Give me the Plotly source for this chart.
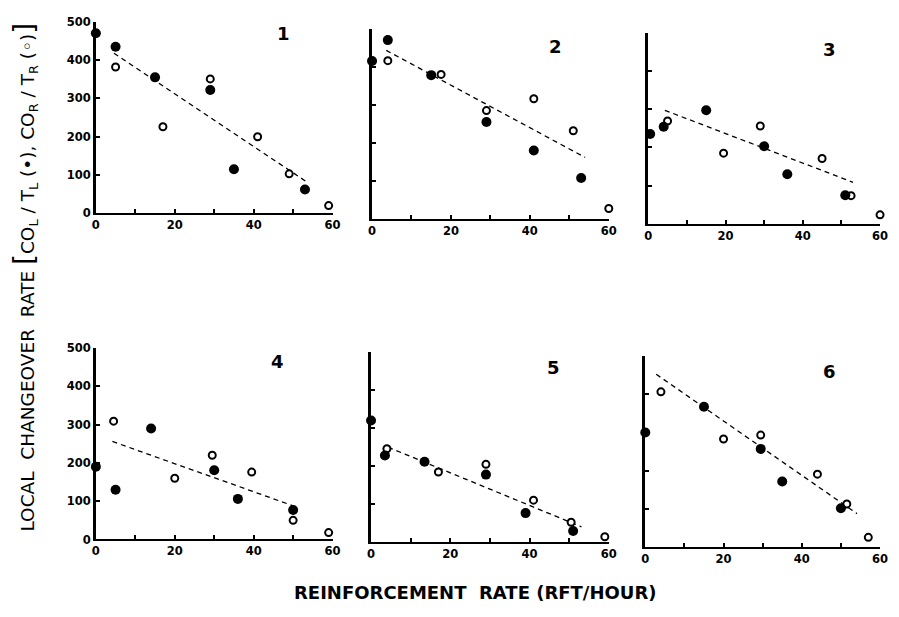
import plotly.graph_objects as go

# Figure is sized so that, with the page's 8px body margin, it fills the
# 899x617 window exactly (no scrollbars, no rescaling).
OFF = 8
W, H = 899 - 2 * OFF, 617 - 2 * OFF

panel_labels = ["1", "2", "3", "4", "5", "6"]

# filled circles: CO_L / T_L
filled_x = [
    [0, 5, 15, 29, 35, 53],
    [0, 4, 15, 29, 41, 53],
    [0.5, 4, 15, 30, 36, 51],
    [0, 5, 14, 30, 36, 50],
    [0, 3.5, 13.5, 29, 39, 51],
    [0, 5, 15, 29.5, 35, 50],
]
filled_y = [
    [470, 435, 355, 322, 115, 62],
    [415, 470, 378, 255, 180, 108],
    [235, 254, 297, 203, 130, 75],
    [190, 130, 290, 181, 106, 77],
    [320, 228, 212, 178, 77, 30],
    [300, 508, 367, 257, 172, 102],
]
# open circles: CO_R / T_R
open_x = [
    [5, 17, 29, 41, 49, 59],
    [4, 17.5, 29, 41, 51, 60],
    [5, 19.5, 29, 45, 52.5, 60],
    [4.5, 20, 29.5, 39.5, 50, 59],
    [4, 17, 29, 41, 50.5, 59],
    [4, 20, 29.5, 44, 51.5, 57],
]
open_y = [
    [382, 226, 351, 200, 103, 20],
    [416, 380, 285, 316, 232, 28],
    [269, 185, 256, 171, 74, 24],
    [309, 160, 220, 176, 50, 18],
    [246, 185, 205, 111, 53, 15],
    [406, 283, 293, 191, 113, 26],
]
# dashed fitted lines (endpoints)
fit_x = [[4.6, 53.3], [3.6, 54], [4.3, 53], [4.2, 50], [4.3, 53.1], [2.8, 54.1]]
fit_y = [[418, 83], [443, 162], [297, 109], [256, 88], [250, 41], [452, 88]]

x_ticks = [0, 20, 40, 60]
y_ticks = [0, 100, 200, 300, 400, 500]

# panel number label positions (data coords)
label_x = [47.5, 46.5, 47, 46, 46, 47]
label_y = [470, 454, 457, 464, 459, 459]

# layout geometry in window pixels (as seen in the reference)
x_dom_px = [(93, 333), (373, 613), (653, 888), (93, 333), (372, 613), (650, 888)]
y_dom_px = [(15, 211), (22, 217), (26, 222), (349, 545), (353, 548), (357, 553)]


def fx(px):
    return (px - OFF) / W


def fy(py):
    return 1 - (py - OFF) / H


tickfont = dict(family="DejaVu Sans", size=11.5, color="black", weight="bold")

fig = go.Figure()
layout = dict(
    width=W, height=H,
    margin=dict(l=0, r=0, t=0, b=0),
    paper_bgcolor="white", plot_bgcolor="white",
    showlegend=False,
    annotations=[],
)

for i in range(6):
    n = "" if i == 0 else str(i + 1)
    xa, ya = "x" + n, "y" + n
    fig.add_trace(go.Scatter(
        x=fit_x[i], y=fit_y[i], mode="lines", xaxis=xa, yaxis=ya,
        line=dict(color="black", width=1.3, dash="5px,4px"), cliponaxis=False))
    fig.add_trace(go.Scatter(
        x=open_x[i], y=open_y[i], mode="markers", xaxis=xa, yaxis=ya,
        marker=dict(symbol="circle", size=7, color="white",
                    line=dict(color="black", width=2)), cliponaxis=False))
    fig.add_trace(go.Scatter(
        x=filled_x[i], y=filled_y[i], mode="markers", xaxis=xa, yaxis=ya,
        marker=dict(symbol="circle", size=10, color="black",
                    line=dict(color="black", width=0)), cliponaxis=False))

    x0, x1 = x_dom_px[i]
    t, b = y_dom_px[i]
    layout["xaxis" + n] = dict(
        domain=[fx(x0), fx(x1)], anchor=ya, range=[0, 60],
        tickvals=x_ticks, ticks="inside", ticklen=4, tickwidth=1.5,
        tickcolor="black", showline=True, linecolor="black", linewidth=2,
        showgrid=False, zeroline=False, tickfont=tickfont,
        minor=dict(dtick=10, ticks="inside", ticklen=4, tickwidth=1.5,
                   tickcolor="black", showgrid=False),
    )
    layout["yaxis" + n] = dict(
        domain=[fy(b), fy(t)], anchor=xa, range=[0, 500],
        tickvals=y_ticks, ticks="inside", ticklen=4, tickwidth=1.5,
        tickcolor="black", showline=True, linecolor="black", linewidth=2.5,
        showgrid=False, zeroline=False, tickfont=tickfont,
        showticklabels=(i in (0, 3)),
    )
    layout["annotations"].append(dict(
        x=label_x[i], y=label_y[i], xref=xa, yref=ya, text=panel_labels[i],
        showarrow=False, font=dict(family="DejaVu Sans", size=18,
                                   color="black", weight="bold")))

layout["annotations"].append(dict(
    x=fx(21), y=fy(276), xref="paper", yref="paper", textangle=-90,
    xanchor="center", yanchor="middle", showarrow=False,
    text=("LOCAL  CHANGEOVER  RATE <span style='font-size:28px'>[</span>"
          "CO<sub>L</sub> / T<sub>L</sub> (•), CO<sub>R</sub> / T<sub>R</sub> (◦)"
          "<span style='font-size:28px'>]</span>"),
    font=dict(family="DejaVu Sans", size=18.5, color="black")))
layout["annotations"].append(dict(
    x=fx(478), y=fy(599), xref="paper", yref="paper",
    xanchor="center", yanchor="middle",
    showarrow=False, text="REINFORCEMENT  RATE (RFT/HOUR)",
    font=dict(family="DejaVu Sans", size=18, color="black", weight="bold")))

fig.update_layout(**layout)
fig.write_html("out.html")
